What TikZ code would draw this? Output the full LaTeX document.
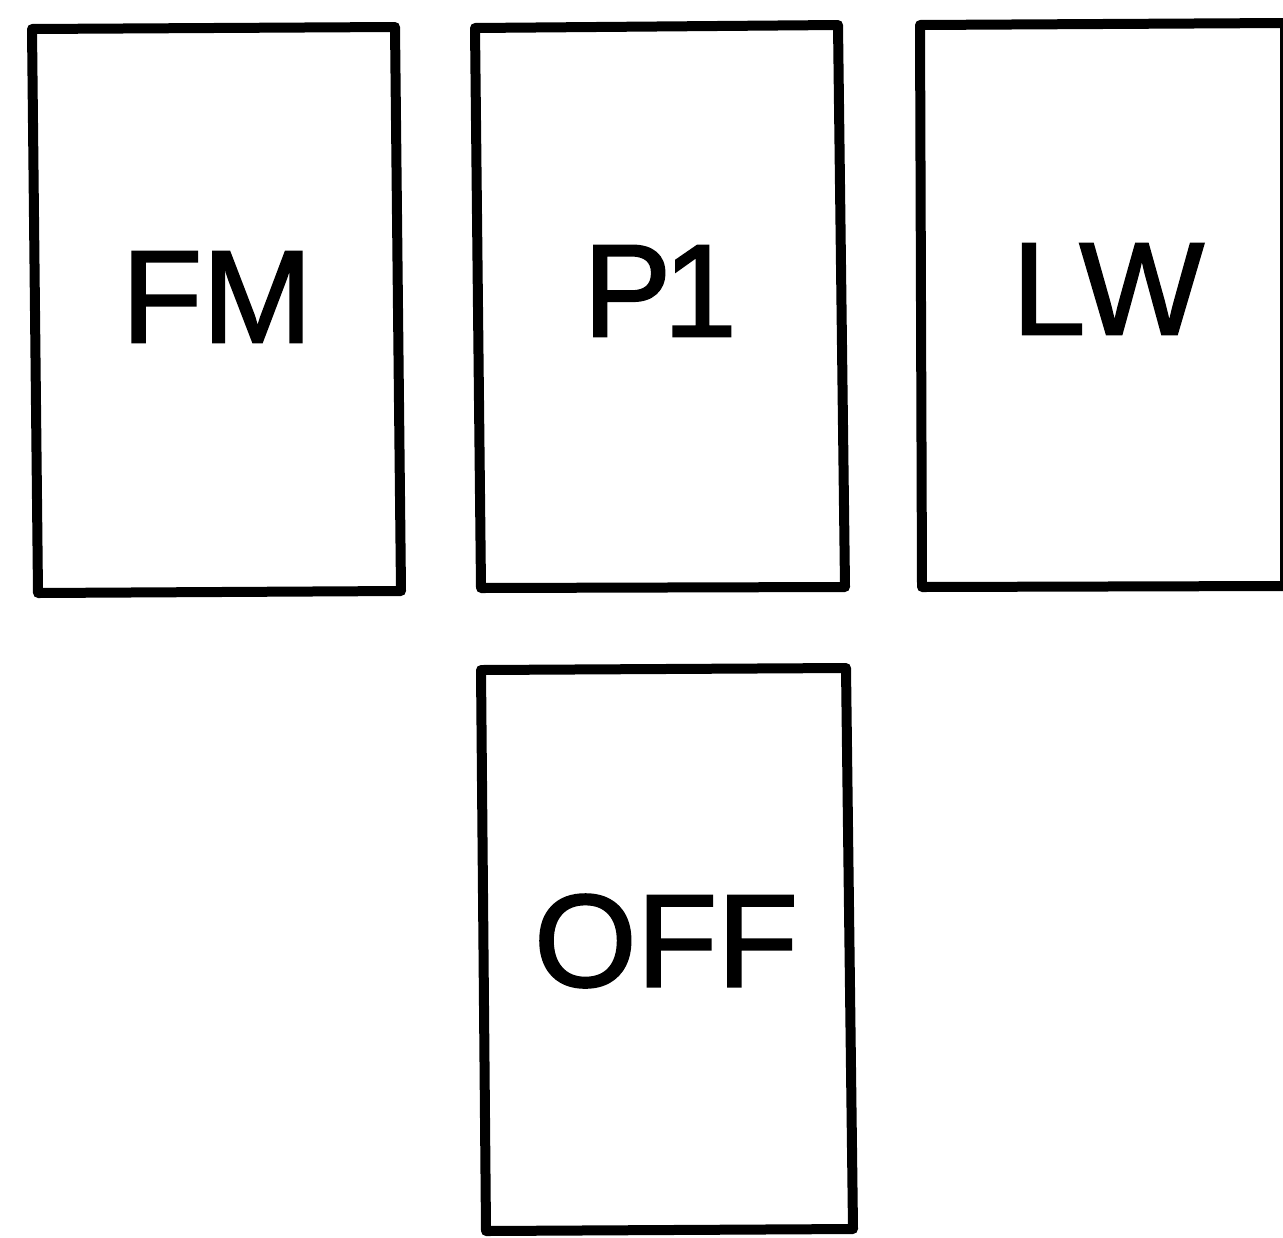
\documentclass[tikz,border=0pt]{standalone}
\usepackage{fontspec}
\setmainfont{Liberation Sans}
\newfontfamily\boldishfont[FakeBold=1.6]{Liberation Sans}
\begin{document}
\begin{tikzpicture}[x=0.5pt,y=-0.5pt,
  switchbox/.style={draw=black,line width=5pt,line join=round},
  lbl/.style={font=\boldishfont\fontsize{66}{70}\selectfont,inner sep=0pt,anchor=center}]
\useasboundingbox (0,0) rectangle (1283,1237);
\draw[switchbox] (32,29) -- (395,27) -- (401,591) -- (38,593) -- cycle;
\draw[switchbox] (475,28) -- (838,25) -- (845,587) -- (481,588) -- cycle;
\draw[switchbox] (920,25) -- (1285,23) -- (1285,586) -- (922,587) -- cycle;
\draw[switchbox] (481,670) -- (846,668) -- (853,1229) -- (486,1231) -- cycle;
\node[lbl] (fm) at (217,297) {FM};
\node[lbl] (p1) at (660,291) {P\kern-4pt 1};
\node[lbl] (lw) at (1108,289) {L\kern-3pt W};
\node[lbl] (off) at (666,941) {OFF};
\end{tikzpicture}
\end{document}
